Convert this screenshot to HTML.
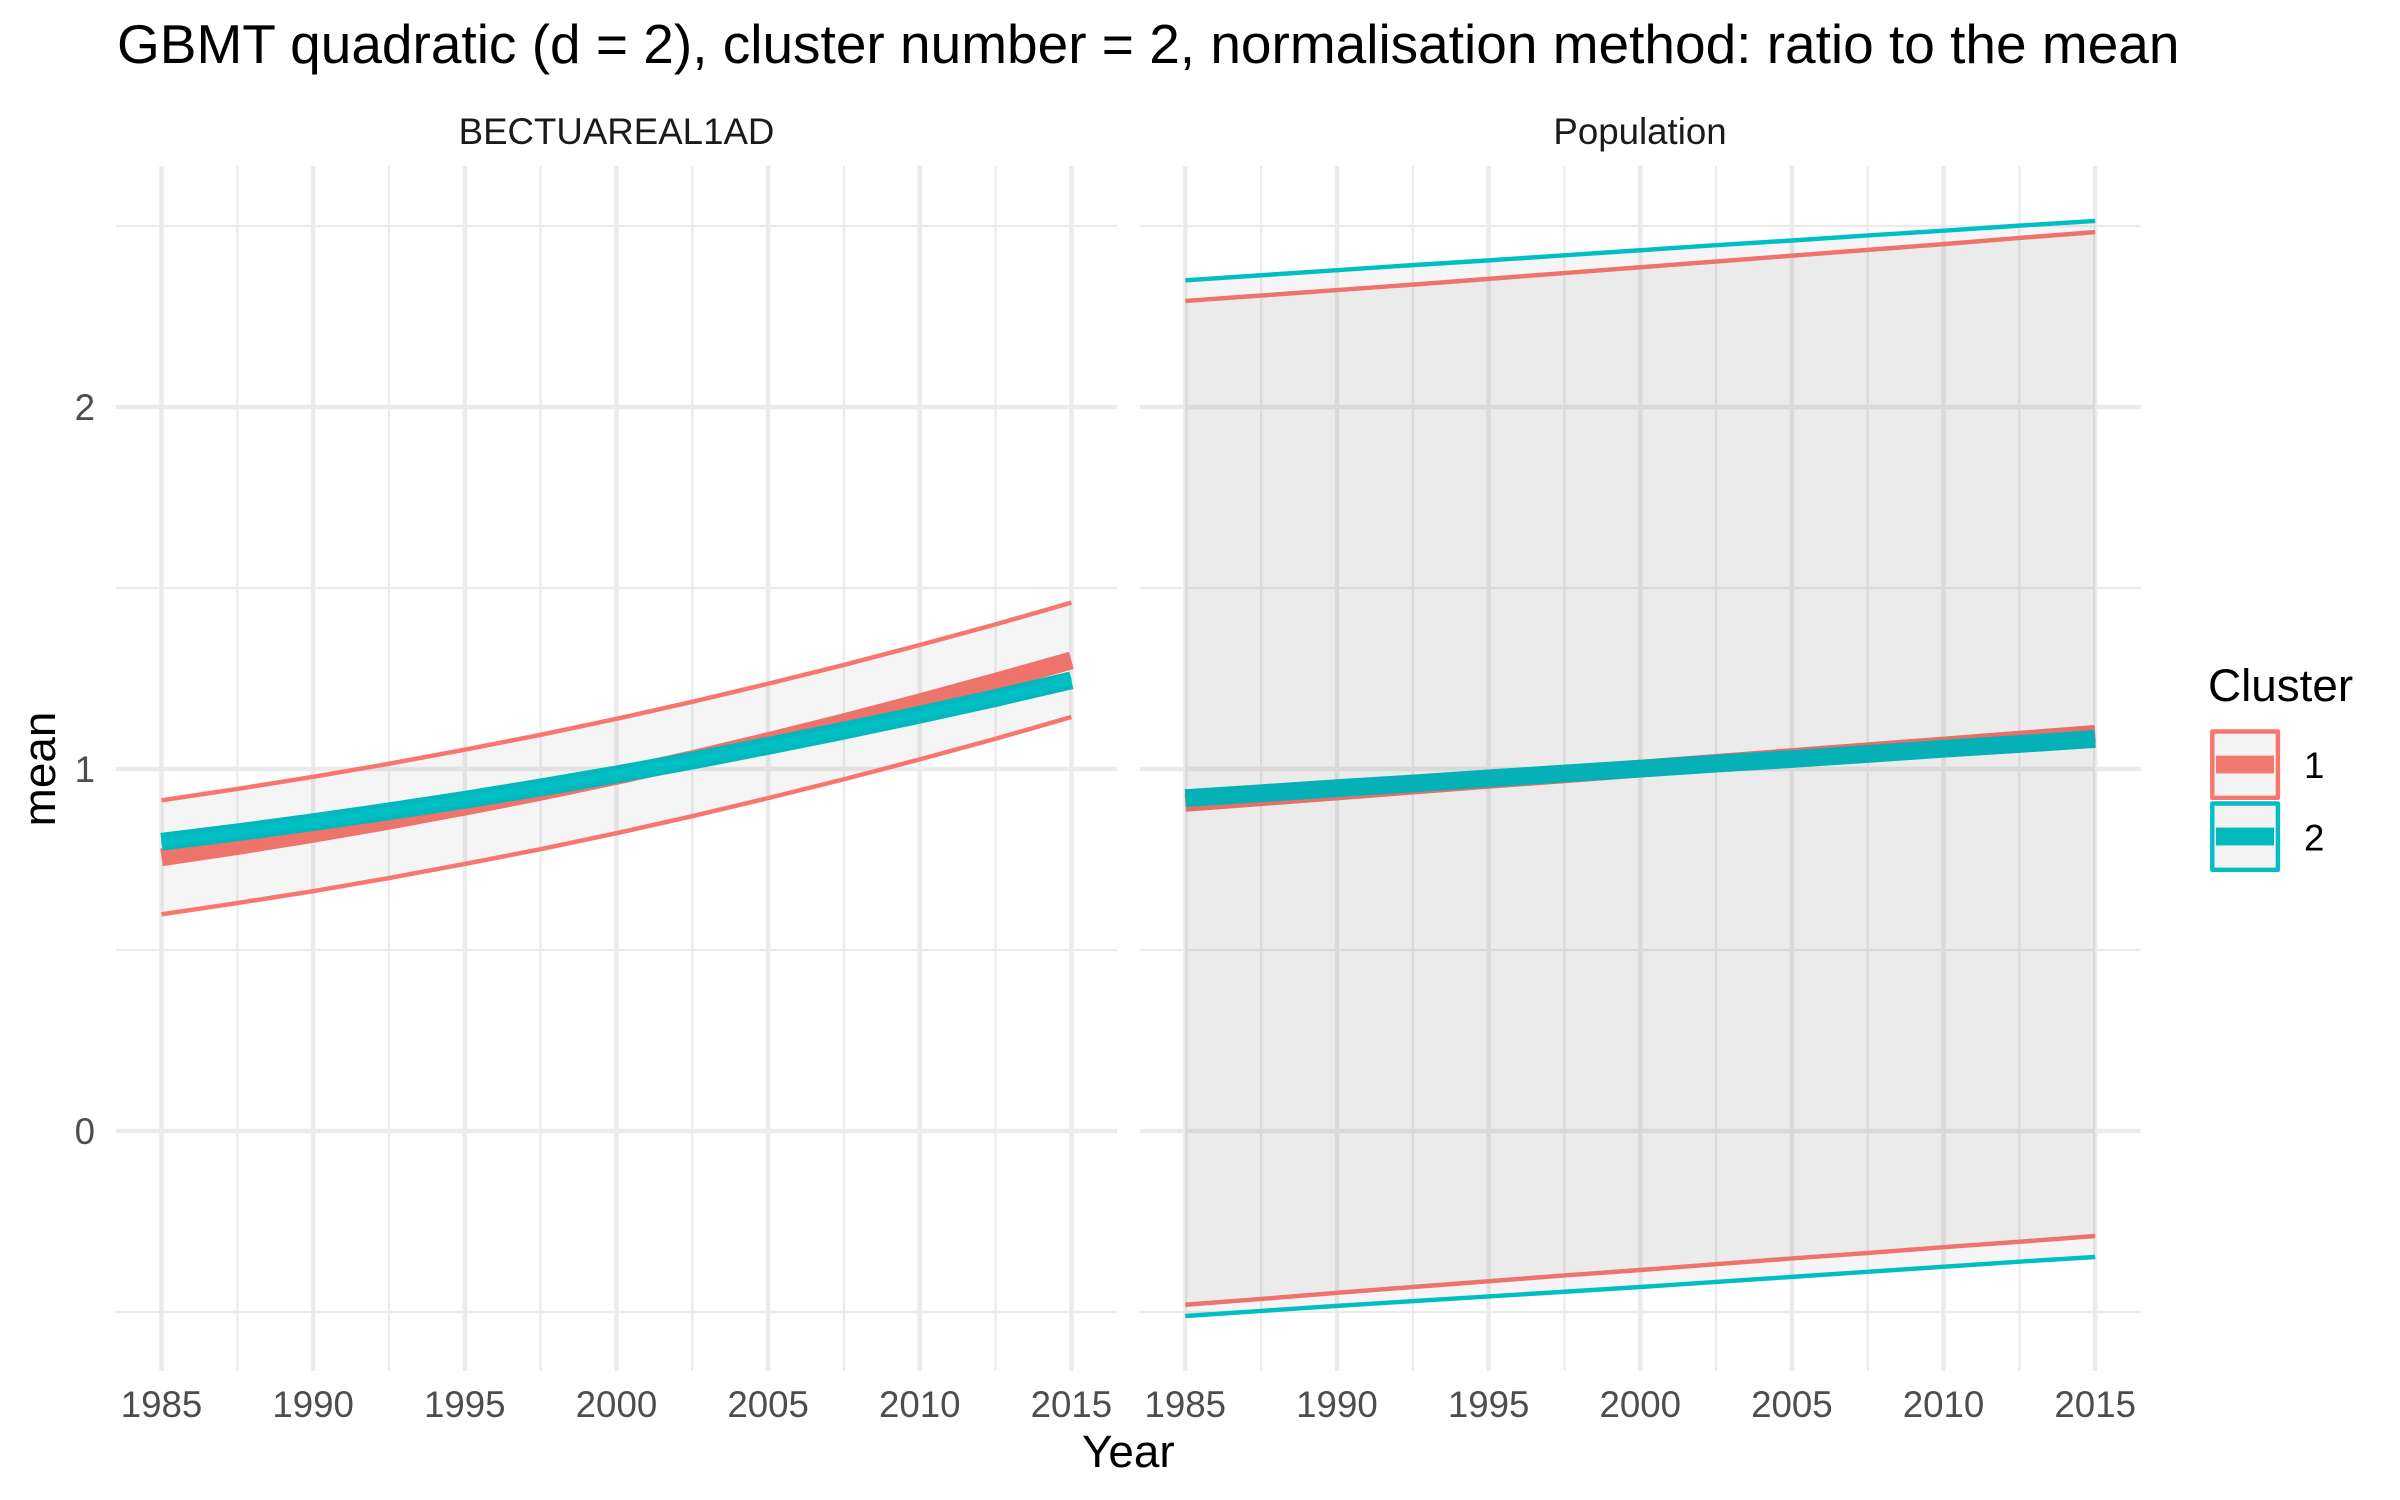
<!DOCTYPE html>
<html lang="en">
<head>
<meta charset="utf-8">
<title>GBMT quadratic chart</title>
<style>
html,body{margin:0;padding:0;background:#fff;width:2400px;height:1500px;overflow:hidden}
svg{display:block;position:absolute;left:0;top:0}
text{font-family:"Liberation Sans",Arial,sans-serif}
</style>
</head>
<body>
<svg id="chart" xmlns="http://www.w3.org/2000/svg" width="2400" height="1500" viewBox="0 0 2400 1500">
  <rect x="0" y="0" width="2400" height="1500" fill="#ffffff"/>
  <g id="panels"></g>
  <text x="117" y="63" font-size="55" fill="#000000">GBMT quadratic (d = 2), cluster number = 2, normalisation method: ratio to the mean</text>
  <text x="616.5" y="144" font-size="36.67" fill="#1a1a1a" text-anchor="middle">BECTUAREAL1AD</text>
  <text x="1640" y="144" font-size="36.67" fill="#1a1a1a" text-anchor="middle">Population</text>
  <text x="1128.3" y="1467" font-size="45.83" fill="#000000" text-anchor="middle">Year</text>
  <text transform="translate(55 769) rotate(-90)" font-size="45.83" fill="#000000" text-anchor="middle">mean</text>
  <g>
    <text x="2208" y="701" font-size="45.83" fill="#000000">Cluster</text>
    <rect x="2212.3" y="731.5" width="65.6" height="66.3" fill="#f4f4f4" stroke="#F8766D" stroke-width="4.44" stroke-linejoin="round"/>
    <rect x="2216" y="755.6" width="58" height="17.8" fill="#F27970"/>
    <text x="2304" y="778" font-size="36.67" fill="#000000">1</text>
    <rect x="2212.3" y="803.5" width="65.6" height="66.3" fill="#f4f4f4" stroke="#00BFC4" stroke-width="4.44" stroke-linejoin="round"/>
    <rect x="2216" y="827.6" width="58" height="17.8" fill="#00BABF"/>
    <text x="2304" y="850.5" font-size="36.67" fill="#000000">2</text>
  </g>
</svg>
<script>
// ---- data ----
const years = [1985, 1987.5, 1990, 1992.5, 1995, 1997.5, 2000, 2002.5, 2005, 2007.5, 2010, 2012.5, 2015];
const xMajorTicks = [1985, 1990, 1995, 2000, 2005, 2010, 2015];
const xMinorTicks = [1987.5, 1992.5, 1997.5, 2002.5, 2007.5, 2012.5];
const yMajorTicks = [0, 1, 2];
const yMinorTicks = [-0.5, 0.5, 1.5, 2.5];
const yTickLabels = ["0", "1", "2"];
const xTickLabels = ["1985", "1990", "1995", "2000", "2005", "2010", "2015"];

const areaMean1 = [0.756, 0.787, 0.821, 0.857, 0.896, 0.937, 0.981, 1.027, 1.077, 1.129, 1.184, 1.241, 1.300];
const areaUpper1 = [0.9135, 0.945, 0.9785, 1.0145, 1.0535, 1.0945, 1.1385, 1.1855, 1.2355, 1.2875, 1.3425, 1.3995, 1.4595];
const areaLower1 = [0.5986, 0.6296, 0.6626, 0.6986, 0.7376, 0.7786, 0.8226, 0.8696, 0.9196, 0.9716, 1.0266, 1.0836, 1.1436];
const areaMean2 = [0.799, 0.825, 0.853, 0.883, 0.915, 0.949, 0.985, 1.023, 1.064, 1.106, 1.150, 1.196, 1.245];
const areaUpper2 = [0.804, 0.830, 0.858, 0.888, 0.920, 0.954, 0.990, 1.028, 1.069, 1.111, 1.155, 1.201, 1.250];
const areaLower2 = [0.794, 0.820, 0.848, 0.878, 0.910, 0.944, 0.980, 1.018, 1.059, 1.101, 1.145, 1.191, 1.240];

const popMean1 = [0.9065, 0.922, 0.938, 0.954, 0.970, 0.985, 1.001, 1.017, 1.033, 1.049, 1.065, 1.081, 1.097];
const popUpper1 = [2.293, 2.308, 2.323, 2.338, 2.354, 2.370, 2.386, 2.402, 2.418, 2.434, 2.450, 2.467, 2.483];
const popLower1 = [-0.480, -0.464, -0.447, -0.431, -0.415, -0.399, -0.384, -0.368, -0.352, -0.337, -0.321, -0.306, -0.290];
const popMean2 = [0.9195, 0.933, 0.947, 0.960, 0.974, 0.9875, 1.001, 1.0147, 1.0276, 1.0414, 1.056, 1.069, 1.083];
const popUpper2 = [2.350, 2.364, 2.378, 2.392, 2.405, 2.419, 2.433, 2.447, 2.460, 2.474, 2.487, 2.501, 2.514];
const popLower2 = [-0.511, -0.497, -0.483, -0.470, -0.457, -0.444, -0.431, -0.417, -0.403, -0.389, -0.375, -0.361, -0.348];

// ---- layout and axis functions ----
const NS = "http://www.w3.org/2000/svg";
const RED = "#F8766D";
const CYAN = "#00BFC4";
const THICK = 17.8;
const THIN = 4.44;
const panelTop = 166;
const panelBottom = 1371;
const panelWidth = 1001;

function xScale(panelLeft, year) {
  return panelLeft + 45.5 + (year - 1985) * 30.33;
}
function yScale(value) {
  return 1131 - 362 * value;
}
function pointsOf(panelLeft, values) {
  return values.map((v, i) => xScale(panelLeft, years[i]).toFixed(2) + "," + yScale(v).toFixed(2));
}
function makeEl(tag, parent, attrs) {
  const el = document.createElementNS(NS, tag);
  Object.keys(attrs).forEach(k => el.setAttribute(k, attrs[k]));
  parent.appendChild(el);
  return el;
}

function drawGridLine(g, panelLeft, kind, axis, tick) {
  const w = kind === "major" ? 4.44 : 2.22;
  let line;
  if (axis === "x") {
    const x = xScale(panelLeft, tick);
    line = makeEl("line", g, {x1: x, x2: x, y1: panelTop, y2: panelBottom, stroke: "#ebebeb", "stroke-width": w});
  } else {
    const y = yScale(tick);
    line = makeEl("line", g, {x1: panelLeft, x2: panelLeft + panelWidth, y1: y, y2: y, stroke: "#ebebeb", "stroke-width": w});
  }
  
  
}

function drawPanel(key, panelLeft, showY, series) {
  const root = document.getElementById("panels");
  const g = makeEl("g", root, {});
  
  

  yMinorTicks.forEach(t => drawGridLine(g, panelLeft, "minor", "y", t));
  xMinorTicks.forEach(t => drawGridLine(g, panelLeft, "minor", "x", t));
  yMajorTicks.forEach(t => drawGridLine(g, panelLeft, "major", "y", t));
  xMajorTicks.forEach(t => drawGridLine(g, panelLeft, "major", "x", t));

  series.forEach(s => {
    const line = makeEl("polyline", g, {points: pointsOf(panelLeft, s.mean).join(" "), fill: "none", stroke: s.color, "stroke-width": THICK, "stroke-linecap": "butt", "stroke-linejoin": "round"});
    
    
  });

  series.forEach(s => {
    const up = pointsOf(panelLeft, s.upper);
    const lo = pointsOf(panelLeft, s.lower);
    const band = makeEl("polygon", g, {points: up.concat(lo.slice().reverse()).join(" "), fill: "#333333", "fill-opacity": 0.05, stroke: "none"});
    
    
    const upper = makeEl("polyline", g, {points: up.join(" "), fill: "none", stroke: s.color, "stroke-width": THIN, "stroke-linecap": "butt", "stroke-linejoin": "round"});
    
    
    const lower = makeEl("polyline", g, {points: lo.join(" "), fill: "none", stroke: s.color, "stroke-width": THIN, "stroke-linecap": "butt", "stroke-linejoin": "round"});
    
    
  });

  xMajorTicks.forEach((t, i) => {
    const label = makeEl("text", g, {x: xScale(panelLeft, t), y: 1417, "font-size": 36.67, fill: "#4d4d4d", "text-anchor": "middle"});
    label.textContent = xTickLabels[i];
    
    
  });

  if (showY) {
    yMajorTicks.forEach((t, i) => {
      const label = makeEl("text", g, {x: 95, y: yScale(t) + 13, "font-size": 36.67, fill: "#4d4d4d", "text-anchor": "end"});
      label.textContent = yTickLabels[i];
      
      
    });
  }
}

drawPanel("bectuareal1ad", 116, true, [
  {id: 1, color: RED, mean: areaMean1, upper: areaUpper1, lower: areaLower1},
  {id: 2, color: CYAN, mean: areaMean2, upper: areaUpper2, lower: areaLower2}
]);
drawPanel("population", 1139.8, false, [
  {id: 1, color: RED, mean: popMean1, upper: popUpper1, lower: popLower1},
  {id: 2, color: CYAN, mean: popMean2, upper: popUpper2, lower: popLower2}
]);
</script>
</body>
</html>
